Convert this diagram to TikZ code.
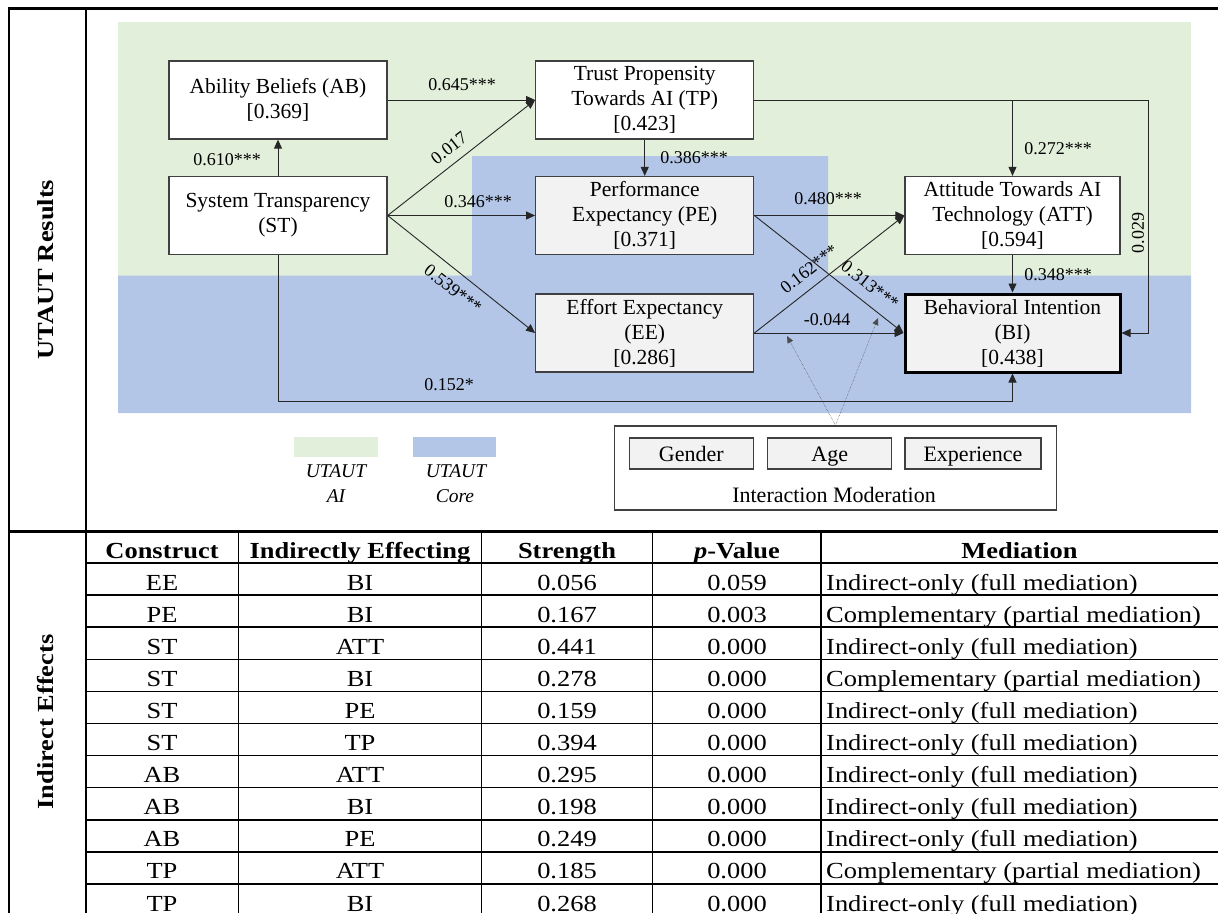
\documentclass[tikz,border=0pt]{standalone}
\usepackage{fontspec}
\setmainfont{Liberation Serif}
\newfontfamily\tabfont{Liberation Serif}[FakeStretch=1.15]
\usetikzlibrary{arrows.meta}
\definecolor{aigreen}{HTML}{E2EFDA}
\definecolor{coreblue}{HTML}{B4C6E7}
\definecolor{boxgray}{HTML}{F2F2F2}
\definecolor{edgegray}{HTML}{404040}
\newcommand{\fullmed}{Indirect-only (full mediation)}
\newcommand{\partmed}{Complementary (partial mediation)}

\begin{document}
\begin{tikzpicture}[x=1pt,y=-1pt,
  construct/.style={draw=edgegray, line width=1.3pt, fill=white,
    minimum width=218pt, minimum height=78pt, inner sep=0pt, align=center,
    font=\fontsize{21.5}{25}\selectfont},
  corebox/.style={construct, fill=boxgray},
  pathline/.style={draw=black!85, line width=0.9pt},
  patharrow/.style={pathline, -{Triangle[length=9pt,width=8pt]}},
  modarrow/.style={draw=black!70, line width=0.5pt, densely dotted,
    -{Triangle[length=7pt,width=6pt]}},
  coef/.style={font=\fontsize{18}{20}\selectfont, inner sep=0pt},
  legendtext/.style={font=\fontsize{19.5}{22}\itshape, inner sep=0pt},
  modbox/.style={draw=edgegray, line width=1.2pt, fill=boxgray,
    minimum width=124pt, minimum height=31pt, inner sep=0pt,
    text height=19pt, text depth=4pt,
    font=\fontsize{22}{24}\selectfont},
  cell/.style={font=\tabfont\fontsize{23}{26}\selectfont, inner sep=0pt, anchor=base},
  headcell/.style={cell, font=\tabfont\fontsize{23}{26}\selectfont\bfseries},
  sidelabel/.style={font=\tabfont\fontsize{23}{26}\selectfont\bfseries,
    inner sep=0pt, rotate=90, anchor=base},
  gridline/.style={draw=black, line width=1.5pt},
  frameline/.style={draw=black, line width=3pt}]

\useasboundingbox (0,0) rectangle (1218,913);

% background regions of the model
\fill[aigreen] (118,22) rectangle (1191,275.5);
\fill[coreblue] (118,275.5) -- (472,275.5) -- (472,156) -- (828,156)
  -- (828,275.5) -- (1191,275.5) -- (1191,413) -- (118,413) -- cycle;

% constructs
\node[construct] (ab)  at (278,100)    {Ability Beliefs (AB)\\{[0.369]}};
\node[construct] (tp)  at (644.75,100) {Trust Propensity\\Towards AI (TP)\\{[0.423]}};
\node[construct] (st)  at (278,215.5)  {System Transparency\\(ST)};
\node[corebox]   (pe)  at (644.75,215.5) {Performance\\Expectancy (PE)\\{[0.371]}};
\node[construct, minimum width=215pt] (att) at (1012.5,215.5)
  {Attitude Towards AI\\Technology (ATT)\\{[0.594]}};
\node[corebox]   (ee)  at (644.75,333) {Effort Expectancy\\(EE)\\{[0.286]}};
\node[corebox, minimum width=215pt, draw=black, line width=3pt] (bi) at (1012.5,333)
  {Behavioral Intention\\(BI)\\{[0.438]}};

% structural paths
\coordinate (tpcorner) at (1148,100);
\coordinate (stlevel) at (0,401.5);
\draw[patharrow] (st.north) -- (ab.south);
\draw[patharrow] (ab.east) -- (tp.west);
\draw[patharrow] (st.east) -- (tp.west);
\draw[patharrow] (st.east) -- (pe.west);
\draw[patharrow] (st.east) -- (ee.west);
\draw[patharrow] (tp.south) -- (pe.north);
\draw[patharrow] (tp.east) -- (tpcorner) |- (bi.east);
\draw[patharrow] (att.north |- tp.east) -- (att.north);
\draw[patharrow] (pe.east) -- (att.west);
\draw[patharrow] (pe.east) -- (bi.west);
\draw[patharrow] (ee.east) -- (att.west);
\draw[patharrow] (ee.east) -- (bi.west);
\draw[patharrow] (att.south) -- (bi.north);
\draw[patharrow] (st.south) -- (st.south |- stlevel) -| (bi.south);

% path coefficients
\node[coef] (c645) at (462,85) {0.645***};
\node[coef] (c610) at (227,159.5) {0.610***};
\node[coef, rotate=38] (c017) at (449,148) {0.017};
\node[coef] (c346) at (478,202) {0.346***};
\node[coef] (c386) at (694,158) {0.386***};
\node[coef] (c272) at (1058,149) {0.272***};
\node[coef] (c480) at (828,199) {0.480***};
\node[coef, rotate=90] (c029) at (1138,233) {0.029};
\node[coef, rotate=38] (c162) at (809,269) {0.162***};
\node[coef, rotate=-38] (c313) at (870,285) {0.313***};
\node[coef, rotate=-38] (c539) at (453,289) {0.539***};
\node[coef] (c348) at (1058,274.5) {0.348***};
\node[coef] (c044) at (827,319.5) {-0.044};
\node[coef] (c152) at (449,385) {0.152*};

% legend
\fill[aigreen] (294,437) rectangle (378,457);
\fill[coreblue] (413,437) rectangle (496,457);
\node[legendtext] (legai1) at (336,471.5) {UTAUT};
\node[legendtext] (legai2) at (336,496) {AI};
\node[legendtext] (legcore1) at (456,471.5) {UTAUT};
\node[legendtext] (legcore2) at (455,496) {Core};

% moderators
\node[draw=edgegray, line width=1.3pt, fill=white, minimum width=442pt,
  minimum height=84pt, inner sep=0pt] (mod) at (835.5,468) {};
\node[modbox] (gender) at (691.25,453.5) {Gender};
\node[modbox] (age) at (829.75,453.5) {Age};
\node[modbox, minimum width=136pt] (exper) at (973,453.5) {Experience};
\node[font=\fontsize{22}{24}\selectfont, inner sep=0pt] (modlabel) at (834,495)
  {Interaction Moderation};
\coordinate (modee) at (787,336);
\coordinate (modpe) at (878,318);
\draw[modarrow] (mod.north) -- (modee);
\draw[modarrow] (mod.north) -- (modpe);

% frame of the results sheet
\draw[frameline] (9,8.5) -- (1218,8.5);
\draw[frameline] (9,531) -- (1218,531);
\draw[gridline, line width=2pt] (9.3,7) -- (9.3,913);
\draw[gridline, line width=2pt] (85.5,7) -- (85.5,913);
\node[sidelabel] (lblres) at (53.5,269.5) {UTAUT Results};
\node[sidelabel] (lblind) at (53.5,722) {Indirect Effects};

% table of indirect effects
\foreach \k in {0,...,10}
  \draw[gridline] (86.5,{563+32.1*\k}) -- (1218,{563+32.1*\k});
\foreach \xc in {238.5,481.7,652.6,821}
  \draw[gridline] (\xc,532.5) -- (\xc,913);

\node[headcell] (hcon) at (162,558.4) {Construct};
\node[headcell] (hind) at (360,558.4) {Indirectly Effecting};
\node[headcell] (hstr) at (567,558.4) {Strength};
\node[headcell] (hpv)  at (737,558.4) {\textit{p}-Value};
\node[headcell] (hmed) at (1019.5,558.4) {Mediation};

\foreach \con/\tgt/\str/\pv/\med [count=\k] in {
  EE/BI/0.056/0.059/\fullmed,
  PE/BI/0.167/0.003/\partmed,
  ST/ATT/0.441/0.000/\fullmed,
  ST/BI/0.278/0.000/\partmed,
  ST/PE/0.159/0.000/\fullmed,
  ST/TP/0.394/0.000/\fullmed,
  AB/ATT/0.295/0.000/\fullmed,
  AB/BI/0.198/0.000/\fullmed,
  AB/PE/0.249/0.000/\fullmed,
  TP/ATT/0.185/0.000/\partmed,
  TP/BI/0.268/0.000/\fullmed}{
  \pgfmathsetmacro\yb{563+32.1*(\k-0.5)+11}
  \node[cell] (con\k) at (162,\yb) {\con};
  \node[cell] (tgt\k) at (360,\yb) {\tgt};
  \node[cell] (str\k) at (567,\yb) {\str};
  \node[cell] (pv\k)  at (737,\yb) {\pv};
  \node[cell, anchor=base west] (med\k) at (826,\yb) {\med};
}
\end{tikzpicture}
\end{document}
